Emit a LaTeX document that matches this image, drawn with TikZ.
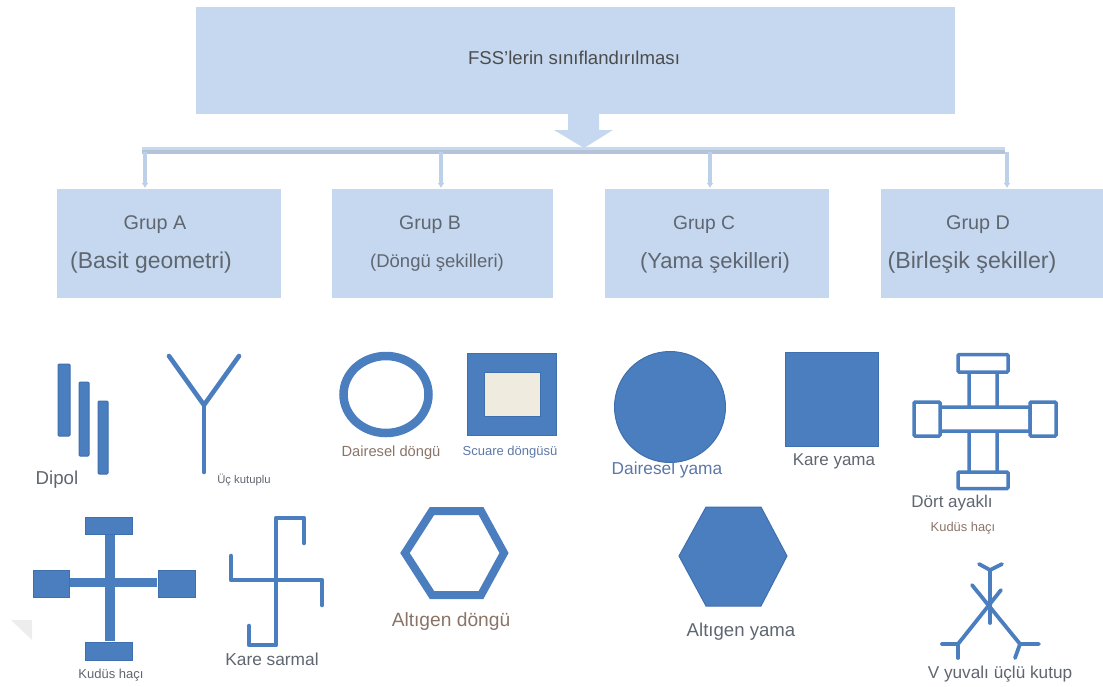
\documentclass[tikz,border=0pt]{standalone}
\usepackage{fontspec}
\setmainfont{Liberation Sans}
\usetikzlibrary{arrows.meta}
\definecolor{boxblue}{HTML}{C6D8EF}
\definecolor{shapeblue}{HTML}{4A7EBF}
\definecolor{shapedk}{HTML}{3F6FAE}
\definecolor{barcol}{HTML}{B4C3D8}
\definecolor{dropcol}{HTML}{BCD0EA}
\definecolor{lab}{HTML}{5F6670}
\definecolor{labbrown}{HTML}{8A7468}
\definecolor{labblue}{HTML}{5C78A8}
\definecolor{creamfill}{HTML}{EFEBDF}
\tikzset{
  x=1pt,y=-1pt,
  bluebox/.style={fill=boxblue,draw=none},
  solidshape/.style={fill=shapeblue,draw=shapedk,line width=1pt},
  ringshape/.style={draw=shapeblue,fill=white,line width=3.5pt},
  wire/.style={draw=shapeblue,line width=4.6pt,line cap=round,line join=round},
  thinwire/.style={draw=shapeblue,line width=3.8pt,line cap=round,line join=round},
  txt/.style={inner sep=0pt,text=#1},
  txt/.default=lab,
  dropline/.style={draw=dropcol,line width=3.2pt,-{Latex[length=5pt,width=7pt]}},
}
\newcommand{\fs}[1]{\fontsize{#1}{#1}\selectfont}
\begin{document}
\begin{tikzpicture}
\useasboundingbox (0,0) rectangle (1103,686);
% main and group boxes
\fill[bluebox] (196,7) rectangle (955,114);
\node[txt=black!70] (title) at (574,58) {\fs{18.6}FSS'lerin sınıflandırılması};
\fill[bluebox] (57,189) rectangle (281,298);
\fill[bluebox] (332,189) rectangle (553,298);
\fill[bluebox] (605,189) rectangle (829,298);
\fill[bluebox] (881,189) rectangle (1103,298);
\coordinate (ga) at (145,188);
\coordinate (gb) at (441,188);
\coordinate (gc) at (710,188);
\coordinate (gd) at (1007,188);
\coordinate (ba) at (145,152);
\coordinate (bb) at (441,152);
\coordinate (bc) at (710,152);
\coordinate (bd) at (1007,152);
% fat arrow
\fill[bluebox] (568,114) -- (599,114) -- (599,130) -- (613,130) -- (584,148) -- (554,130) -- (568,130) -- cycle;
% bar and drops
\fill[boxblue] (142,147) rectangle (1005,151);
\fill[barcol] (142,150) rectangle (1005,154);
\draw[dropline] (ba) -- (ga);
\draw[dropline] (bb) -- (gb);
\draw[dropline] (bc) -- (gc);
\draw[dropline] (bd) -- (gd);
% group labels
\node[txt] (la1) at (155,225) {\fs{19.8}Grup A};
\node[txt] (la2) at (151,263) {\fs{22.9}(Basit geometri)};
\node[txt] (lb1) at (430,225) {\fs{19.5}Grup B};
\node[txt] (lb2) at (437,263) {\fs{18.5}(Döngü şekilleri)};
\node[txt] (lc1) at (704,225) {\fs{19.2}Grup C};
\node[txt] (lc2) at (715,263) {\fs{22}(Yama şekilleri)};
\node[txt] (ld1) at (978,225) {\fs{19.8}Grup D};
\node[txt] (ld2) at (972,263) {\fs{23.2}(Birleşik şekiller)};
% dipole
\filldraw[solidshape,rounded corners=1pt] (58,364) rectangle (70,436);
\filldraw[solidshape,rounded corners=1pt] (79,382) rectangle (89,456);
\filldraw[solidshape,rounded corners=1pt] (98,401) rectangle (108,474);
\node[txt] (dipol) at (57,480) {\fs{18.7}Dipol};
% tripole
\draw[wire] (169,356) -- (204,405) -- (239,356);
\draw[wire] (204,405) -- (204,472);
\node[txt] (tri) at (244,480) {\fs{11.3}Üç kutuplu};
% jerusalem cross
\fill[shapeblue] (105,535) rectangle (115,641);
\fill[shapeblue] (70,578) rectangle (157,587);
\filldraw[solidshape] (85,517) rectangle (132,534);
\filldraw[solidshape] (85,642) rectangle (132,660);
\filldraw[solidshape] (33,570) rectangle (69,597);
\filldraw[solidshape] (158,570) rectangle (195,597);
\node[txt] (kh1) at (111,675) {\fs{13}Kudüs haçı};
% square spiral
\draw[wire] (304,543) -- (304,518) -- (276,518) -- (276,645) -- (249,645) -- (249,626);
\draw[wire] (231,556) -- (231,580) -- (322,580) -- (322,605);
\node[txt] (ks) at (272,659) {\fs{17.3}Kare sarmal};
% circular loop
\draw[draw=shapeblue,line width=8.5pt,fill=white] (386,394.5) ellipse [x radius=42.5,y radius=38.5];
\node[txt=labbrown] (dd) at (391,453) {\fs{14.7}Dairesel döngü};
% square loop
\filldraw[solidshape] (467,353) rectangle (556,435);
\filldraw[fill=creamfill,draw=shapedk,line width=.8pt] (484,372) rectangle (540,416);
\node[txt=labblue] (sd) at (510,452) {\fs{13}Scuare döngüsü};
% circular patch
\filldraw[solidshape] (670,407) circle [radius=55.5];
\node[txt=labblue] (dy) at (667,470) {\fs{17.3}Dairesel yama};
% square patch
\filldraw[solidshape] (785.5,352.5) rectangle (878,446);
\node[txt] (ky) at (834,461) {\fs{17}Kare yama};
% hexagon loop
\draw[draw=shapeblue,line width=8pt,line join=miter,fill=white] (432,511) -- (481,511) -- (504,553) -- (481,595) -- (432,595) -- (405,553) -- cycle;
\node[txt=labbrown] (ad) at (451,622) {\fs{19.2}Altıgen döngü};
% hexagon patch
\filldraw[solidshape] (706,507) -- (761,507) -- (787,556) -- (761,606) -- (706,606) -- (679,556) -- cycle;
\node[txt] (ay) at (741,632) {\fs{18.6}Altıgen yama};
% four legged
\draw[ringshape,rounded corners=.5pt] (969,371) rectangle (997,473);
\draw[ringshape,rounded corners=.5pt] (939,407) rectangle (1030,431);
\fill[white] (971,409) rectangle (995,429);
\draw[ringshape,rounded corners=1pt] (958,354.5) rectangle (1008,372);
\draw[ringshape,rounded corners=1pt] (958,472) rectangle (1008,488.5);
\draw[ringshape,rounded corners=1pt] (914,402) rectangle (940,436);
\draw[ringshape,rounded corners=1pt] (1030,402) rectangle (1056,436);
\node[txt] (da) at (952,503) {\fs{17}Dört ayaklı};
\node[txt=labbrown] (kh2) at (963,528) {\fs{12.9}Kudüs haçı};
% anchored tripole
\draw[thinwire] (990,570) -- (990,623);
\draw[thinwire] (979,564) -- (990,570) -- (1002,564);
\draw[thinwire] (972,585) -- (1020,644);
\draw[thinwire] (1001,590) -- (958,644);
\draw[thinwire] (1039,644) -- (1020,644) -- (1015,658);
\draw[thinwire] (942,644) -- (958,644) -- (958,658);
\node[txt] (vy) at (1000,674) {\fs{17.2}V yuvalı üçlü kutup};
% faint corner mark
\fill[black!7] (11,620) -- (32,620) -- (32,640) -- cycle;
\end{tikzpicture}
\end{document}
